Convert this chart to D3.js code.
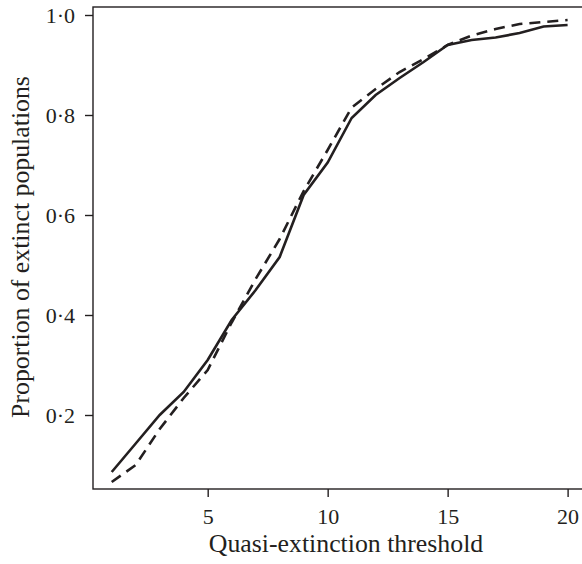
<!DOCTYPE html>
<html>
<head>
<meta charset="utf-8">
<script src="https://cdn.jsdelivr.net/npm/d3@7"></script>
<style>
  body { margin: 0; background: #fff; }
  svg text { font-family: "Liberation Serif", "DejaVu Serif", serif; fill: #231f20; }
</style>
</head>
<body>
<div id="chart"></div>
<script>
let width = 582
let height = 564

// quasi-extinction thresholds
let thresholds = [1, 2, 3, 4, 5, 6, 7, 8, 9, 10, 11, 12, 13, 14, 15, 16, 17, 18, 19, 20]

// solid line
let solidValues = [0.086, 0.143, 0.200, 0.246, 0.310, 0.390, 0.450, 0.516, 0.640, 0.705, 0.794, 0.840, 0.874, 0.906, 0.940, 0.950, 0.955, 0.964, 0.977, 0.980]

// dashed line
let dashedValues = [0.066, 0.100, 0.172, 0.234, 0.290, 0.385, 0.472, 0.552, 0.648, 0.730, 0.815, 0.852, 0.886, 0.912, 0.940, 0.959, 0.972, 0.982, 0.986, 0.990]

let xTicks = [5, 10, 15, 20]
let yTicks = [0.2, 0.4, 0.6, 0.8, 1.0]

let xScale = d3.scaleLinear().domain([0.22, 20.6]).range([93, 582])
let yScale = d3.scaleLinear().domain([0.052, 1.016]).range([489, 7])

const svg = d3.select('#chart')
	.append('svg')
	.attr('width', width)
	.attr('height', height)

// frame
svg.append('rect')
	.attr('x', 93)
	.attr('y', 7)
	.attr('width', 600)
	.attr('height', 482)
	.attr('fill', 'none')
	.attr('stroke', '#231f20')
	.attr('stroke-width', 1.4)

let fmt = d => d.toFixed(1).replace('.', '·')

xAxis = g => g.attr('transform', 'translate(0,489)')
	.call(d3.axisBottom(xScale).tickValues(xTicks).tickSize(8).tickPadding(11))
	.call(g => g.select('.domain').remove())

yAxis = g => g.attr('transform', 'translate(93,0)')
	.call(d3.axisLeft(yScale).tickValues(yTicks).tickSize(8).tickPadding(10).tickFormat(fmt))
	.call(g => g.select('.domain').remove())

svg.append('g').call(xAxis)
svg.append('g').call(yAxis)

svg.selectAll('.tick line').attr('stroke', '#231f20').attr('stroke-width', 1.4)
svg.selectAll('.tick text').attr('font-size', 22).attr('fill', '#231f20')

let line = d3.line()
	.x((d, i) => xScale(thresholds[i]))
	.y(d => yScale(d))

svg.append('path')
	.datum(solidValues)
	.attr('d', line)
	.attr('fill', 'none')
	.attr('stroke', '#231f20')
	.attr('stroke-width', 2.6)

svg.append('path')
	.datum(dashedValues)
	.attr('d', line)
	.attr('fill', 'none')
	.attr('stroke', '#231f20')
	.attr('stroke-width', 2.6)
	.attr('stroke-dasharray', '11,7')

svg.append('text')
	.attr('x', 346)
	.attr('y', 552)
	.attr('text-anchor', 'middle')
	.attr('font-size', 25.8)
	.text('Quasi-extinction threshold')

svg.append('text')
	.attr('transform', 'translate(29,247) rotate(-90)')
	.attr('text-anchor', 'middle')
	.attr('font-size', 25.8)
	.text('Proportion of extinct populations')
</script>
</body>
</html>
